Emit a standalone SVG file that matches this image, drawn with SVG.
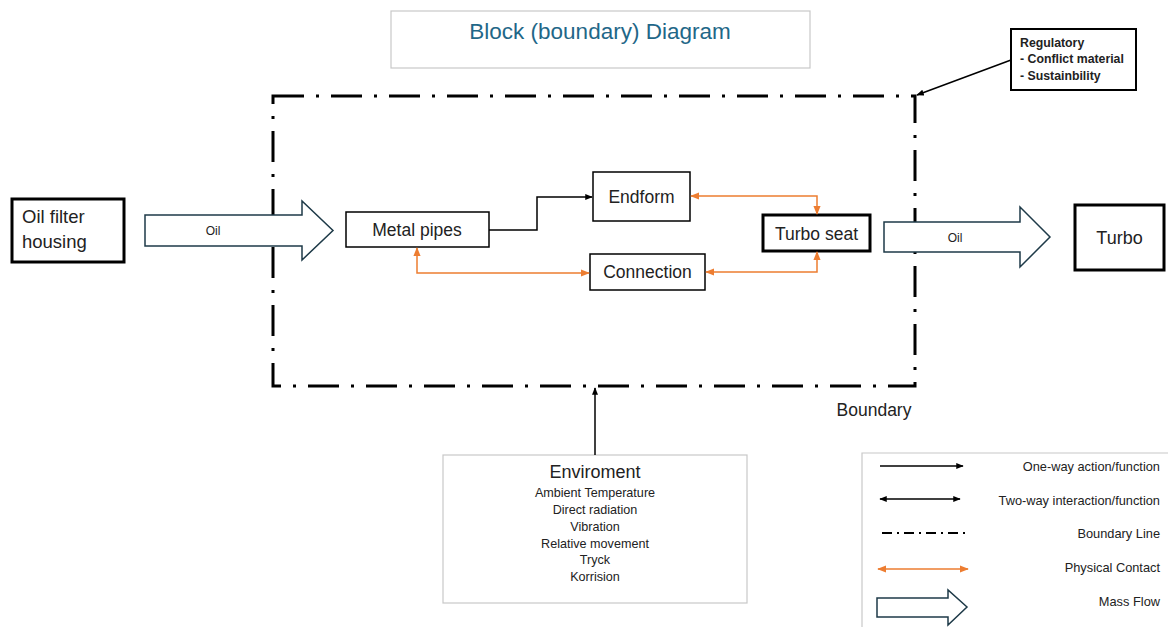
<svg xmlns="http://www.w3.org/2000/svg" width="1168" height="627" viewBox="0 0 1168 627">
<defs>
<marker id="ab" viewBox="0 0 10 10" refX="9" refY="5" markerWidth="5" markerHeight="5" orient="auto-start-reverse" markerUnits="strokeWidth"><path d="M0,1 L10,5 L0,9 z" fill="#000"/></marker>
<marker id="ao" viewBox="0 0 10 10" refX="9" refY="5" markerWidth="6" markerHeight="6" orient="auto-start-reverse" markerUnits="strokeWidth"><path d="M0,1 L10,5 L0,9 z" fill="#ED7D31"/></marker>
</defs>
<style>
text{font-family:"Liberation Sans",Arial,sans-serif;fill:#222}
.box{fill:#fff;stroke:#000;stroke-width:1.5}
.thick{fill:#fff;stroke:#000;stroke-width:3}
.gray{fill:#fff;stroke:#c8c8c8;stroke-width:1.2}
.blk{fill:none;stroke:#000;stroke-width:1.5}
.org{fill:none;stroke:#ED7D31;stroke-width:1.5}
.flow{fill:#fff;stroke:#1e3a48;stroke-width:1.5}
.bnd{fill:none;stroke:#000;stroke-width:3;stroke-dasharray:31 12 3 12}
.node{font-size:17.5px;text-anchor:middle}
.leg{font-size:12.8px;text-anchor:end}
.env{font-size:12.6px;text-anchor:middle}
.reg{font-size:12.3px;font-weight:bold}
</style>
<rect width="1168" height="627" fill="#fff"/>

<g id="title">
<rect class="gray" x="391" y="11" width="419" height="57"/>
<text x="600" y="39" text-anchor="middle" style="font-size:22.5px;fill:#1f6788">Block (boundary) Diagram</text>
</g>

<g id="boundary">
<rect class="bnd" x="273" y="96" width="642" height="290"/>
<text x="874" y="416" text-anchor="middle" style="font-size:17.5px">Boundary</text>
</g>

<g id="regulatory">
<rect class="box" style="stroke-width:2" x="1011" y="29" width="125" height="61"/>
<text class="reg" x="1020" y="47">Regulatory</text>
<text class="reg" x="1020" y="63">- Conflict material</text>
<text class="reg" x="1020" y="80">- Sustainbility</text>
</g>

<g id="oil-filter">
<rect class="thick" x="12" y="199" width="112" height="63"/>
<text x="22" y="223" style="font-size:18.5px">Oil filter</text>
<text x="22" y="248" style="font-size:18.5px">housing</text>
</g>

<g id="flow-in">
<path class="flow" d="M145,215 H302 V201 L333,230.5 L302,260 V246 H145 Z"/>
<text x="213" y="235" text-anchor="middle" style="font-size:12px">Oil</text>
</g>

<g id="metal-pipes">
<rect class="box" x="346" y="212" width="143" height="35"/>
<text class="node" x="417" y="236">Metal pipes</text>
</g>

<g id="endform">
<rect class="box" x="593" y="172" width="97" height="49"/>
<text class="node" x="641.5" y="203">Endform</text>
</g>

<g id="connection">
<rect class="box" x="590" y="254" width="115" height="36"/>
<text class="node" x="647.5" y="278">Connection</text>
</g>

<g id="turbo-seat">
<rect class="thick" x="763" y="215" width="107" height="36"/>
<text class="node" x="816.5" y="240">Turbo seat</text>
</g>

<g id="flow-out">
<path class="flow" d="M884,222 H1020 V207 L1050,237 L1020,267 V252 H884 Z"/>
<text x="955" y="242" text-anchor="middle" style="font-size:12px">Oil</text>
</g>

<g id="turbo">
<rect class="thick" x="1075" y="205" width="89" height="65"/>
<text class="node" x="1119.5" y="244" style="font-size:18px">Turbo</text>
</g>

<g id="environment">
<rect class="gray" x="443" y="455" width="304" height="148"/>
<text x="595" y="478" text-anchor="middle" style="font-size:18px">Enviroment</text>
<text class="env" x="595" y="497">Ambient Temperature</text>
<text class="env" x="595" y="514">Direct radiation</text>
<text class="env" x="595" y="531">Vibration</text>
<text class="env" x="595" y="548">Relative movement</text>
<text class="env" x="595" y="564">Tryck</text>
<text class="env" x="595" y="581">Korrision</text>
</g>

<g id="connectors">
<path class="blk" d="M489,230 H537 V197 H592" marker-end="url(#ab)"/>
<path class="org" d="M691,196 H817 V214" marker-start="url(#ao)" marker-end="url(#ao)"/>
<path class="org" d="M417,248 V273 H589" marker-start="url(#ao)" marker-end="url(#ao)"/>
<path class="org" d="M706,272 H817 V252" marker-start="url(#ao)" marker-end="url(#ao)"/>
<path class="blk" d="M595,455 V388" marker-end="url(#ab)"/>
<path class="blk" d="M1011,60 L917,95" marker-end="url(#ab)"/>
</g>

<g id="legend">
<path d="M862,627 V453 H1168" fill="none" stroke="#c8c8c8" stroke-width="1.2"/>
<path class="blk" d="M880,466 H963" marker-end="url(#ab)"/>
<text class="leg" x="1160" y="471">One-way action/function</text>
<path class="blk" d="M880,499 H960" marker-start="url(#ab)" marker-end="url(#ab)"/>
<text class="leg" x="1160" y="505">Two-way interaction/function</text>
<path d="M882,533 H966" fill="none" stroke="#000" stroke-width="2" stroke-dasharray="10 5 2 5"/>
<text class="leg" x="1160" y="538">Boundary Line</text>
<path class="org" d="M878,569 H968" marker-start="url(#ao)" marker-end="url(#ao)"/>
<text class="leg" x="1160" y="572">Physical Contact</text>
<path class="flow" d="M877,598 H948 V590 L967,607 L948,625 V617 H877 Z"/>
<text class="leg" x="1160" y="606">Mass Flow</text>
</g>
</svg>
